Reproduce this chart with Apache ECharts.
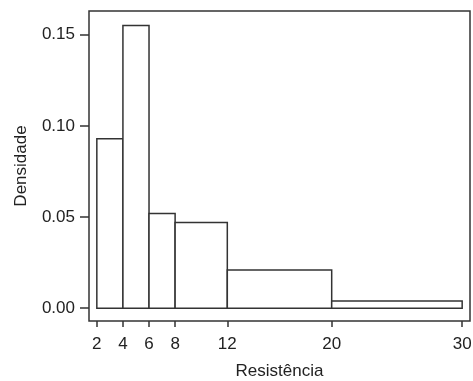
<!DOCTYPE html>
<html>
<head>
<meta charset="utf-8">
<script src="https://cdn.jsdelivr.net/npm/echarts@6/dist/echarts.min.js"></script>
<style>
  html, body { margin: 0; padding: 0; background: #fff; }
  #main { width: 473px; height: 381px; }
</style>
</head>
<body>
<div id="main"></div>
<script>
// bin edges and densities
var binStart = [2, 4, 6, 8, 12, 20];
var binEnd = [4, 6, 8, 12, 20, 30];
var density = [0.093, 0.155, 0.052, 0.047, 0.021, 0.004];
var xTicks = [2, 4, 6, 8, 12, 20, 30];
var yTicks = [0, 0.05, 0.10, 0.15];

var bins = binStart.map(function (s, i) { return [s, binEnd[i], density[i]]; });

var myChart = echarts.init(document.getElementById('main'));

var labelFont = { fontFamily: 'Liberation Sans', fontSize: 17, color: '#222' };

var option = {
  backgroundColor: '#fff',
  animation: false,
  grid: {
    left: 89, top: 11, right: 3, bottom: 60,
    outerBoundsMode: 'none',
    show: true, borderColor: '#333', borderWidth: 1.5, backgroundColor: 'transparent'
  },
  xAxis: {
    type: 'value',
    min: 1.4,
    max: 30.6,
    name: 'Resistência',
    nameLocation: 'middle',
    nameGap: 42,
    nameTextStyle: labelFont,
    axisLine: { show: false, onZero: false },
    axisTick: { show: true, length: 6, customValues: xTicks, lineStyle: { color: '#333', width: 1.5 } },
    axisLabel: Object.assign({ margin: 15, customValues: xTicks }, labelFont),
    splitLine: { show: false }
  },
  yAxis: {
    type: 'value',
    min: -0.007,
    max: 0.163,
    name: 'Densidade',
    nameLocation: 'middle',
    nameGap: 59,
    nameTextStyle: labelFont,
    axisLine: { show: false, onZero: false },
    axisTick: { show: true, length: 9, customValues: yTicks, lineStyle: { color: '#333', width: 1.5 } },
    axisLabel: Object.assign({
      margin: 14,
      customValues: yTicks,
      formatter: function (v) { return v.toFixed(2); }
    }, labelFont),
    splitLine: { show: false }
  },
  series: [{
    type: 'custom',
    data: bins,
    renderItem: function (params, api) {
      var p0 = api.coord([api.value(0), api.value(2)]);
      var p1 = api.coord([api.value(1), 0]);
      return {
        type: 'rect',
        shape: { x: p0[0], y: p0[1], width: p1[0] - p0[0], height: p1[1] - p0[1] },
        style: { fill: '#fff', stroke: '#333', lineWidth: 1.5 }
      };
    },
    encode: { x: [0, 1], y: 2 }
  }]
};

myChart.setOption(option);
</script>
</body>
</html>
